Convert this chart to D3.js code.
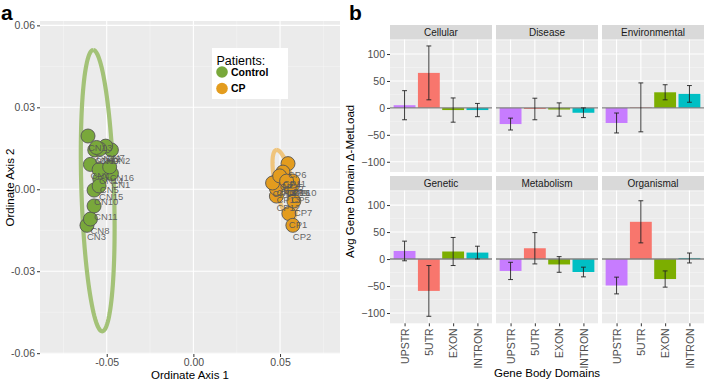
<!DOCTYPE html>
<html>
<head>
<meta charset="utf-8">
<script src="https://cdn.jsdelivr.net/npm/d3@7"></script>
<style>
  body { margin: 0; background: #fff; }
  text { font-family: "Liberation Sans", Arial, sans-serif; }
</style>
</head>
<body>
<svg id="chart"></svg>
<script>
// ---------- panel a : ordination ----------
const CN_LABELS = ['CN1', 'CN2', 'CN3', 'CN4', 'CN5', 'CN6', 'CN7', 'CN8',
    'CN9', 'CN10', 'CN11', 'CN12', 'CN13', 'CN14', 'CN15', 'CN16'];
const CN_X = [-0.0473, -0.0473, -0.0614, -0.0594, -0.0540, -0.0569, -0.0506, -0.0594,
    -0.0540, -0.0573, -0.0573, -0.0559, -0.0608, -0.0544, -0.0544, -0.0483];
const CN_Y = [0.0058, 0.0144, -0.0132, 0.0091, 0.0038, 0.0144, 0.0158, -0.0109,
    0.0147, -0.0003, -0.0061, 0.0153, 0.0195, 0.0072, 0.0012, 0.0082];

const CP_LABELS = ['CP1', 'CP2', 'CP3', 'CP4', 'CP5', 'CP6', 'CP7', 'CP8',
    'CP9', 'CP10', 'CP11', 'CP12', 'CP13', 'CP14', 'CP15', 'CP16'];
const CP_X = [0.0551, 0.0574, 0.0479, 0.0513, 0.0565, 0.0546, 0.0580, 0.0527,
    0.0555, 0.0573, 0.0517, 0.0479, 0.0479, 0.0457, 0.0498, 0.0538];
const CP_Y = [-0.0089, -0.0132, 0.0030, 0.0056, 0.0003, 0.0094, -0.0043, 0.0030,
    0.0030, 0.0030, 0.0063, -0.0025, 0.0003, 0.0023, 0.0049, 0.0030];

// ellipses: centre, major half-vector, minor half-vector (data units)
const ELLIPSE_CENTER = [[-0.0552, -0.0005], [0.0524, 0.0016]];
const ELLIPSE_MAJOR = [[-0.0026, 0.0515], [-0.0043, 0.0128]];
const ELLIPSE_MINOR = [[0.0094, 0], [0.0052, 0]];

const GROUPS = ['Control', 'CP'];
const A_X_TICKS = [-0.05, 0, 0.05];
const A_Y_TICKS = [-0.06, -0.03, 0, 0.03, 0.06];

// ---------- panel b : bars ----------
const DOMAINS = ['UPSTR', '5UTR', 'EXON', 'INTRON'];
const FACETS = ['Cellular', 'Disease', 'Environmental', 'Genetic', 'Metabolism', 'Organismal'];
const MEANS = [
    [5, 65, -4, -4],
    [-30, -2, -3, -9],
    [-28, 1, 29, 26],
    [15, -59, 14, 12],
    [-22, 20, -10, -24],
    [-49, 69, -37, 2]
];
const ERRS = [
    [27, 50, 22.5, 12.3],
    [11, 20, 12.3, 9],
    [18.5, 45.4, 14, 15.5],
    [18.2, 47, 26, 11.8],
    [16, 29, 14.5, 9],
    [15.5, 39, 15, 9.2]
];
const B_Y_TICKS = [-100, -50, 0, 50, 100];

const W = 709, H = 384;
const PANEL_BG = '#ebebeb';
const GROUP_COLORS = ['#79a83b', '#e39c1e'];
const ELLIPSE_COLORS = ['#a3c277', '#efc47c'];
const DOMAIN_COLORS = ['#c77cff', '#f8766d', '#7cae00', '#00bfc4'];
const TICK_COLOR = '#4d4d4d';
const FONT = '"Liberation Sans", Arial, sans-serif';

const svg = d3.select('#chart').attr('width', W).attr('height', H);
svg.append('rect').attr('width', W).attr('height', H).attr('fill', '#fff');

/* ************** PANEL A ************** */
const A = {left: 40, right: 340, top: 21, bottom: 354};
const ax = d3.scaleLinear().domain([-0.0885, 0.0846]).range([A.left, A.right]);
const ay = d3.scaleLinear().domain([-0.0603, 0.0616]).range([A.bottom, A.top]);

const pa = svg.append('g');
pa.append('rect').attr('x', A.left).attr('y', A.top)
    .attr('width', A.right - A.left).attr('height', A.bottom - A.top).attr('fill', PANEL_BG);

// minor grid
const aMinorX = [-0.075, -0.025, 0.025, 0.075];
const aMinorY = [-0.045, -0.015, 0.015, 0.045];
pa.selectAll('.vminor').data(aMinorX).enter().append('line')
    .attr('x1', d => ax(d)).attr('x2', d => ax(d)).attr('y1', A.top).attr('y2', A.bottom)
    .attr('stroke', '#f5f5f5').attr('stroke-width', 0.6);
pa.selectAll('.hminor').data(aMinorY).enter().append('line')
    .attr('y1', d => ay(d)).attr('y2', d => ay(d)).attr('x1', A.left).attr('x2', A.right)
    .attr('stroke', '#f5f5f5').attr('stroke-width', 0.6);
// major grid
pa.selectAll('.vmajor').data(A_X_TICKS).enter().append('line')
    .attr('x1', d => ax(d)).attr('x2', d => ax(d)).attr('y1', A.top).attr('y2', A.bottom)
    .attr('stroke', '#fff').attr('stroke-width', 1.1);
pa.selectAll('.hmajor').data(A_Y_TICKS).enter().append('line')
    .attr('y1', d => ay(d)).attr('y2', d => ay(d)).attr('x1', A.left).attr('x2', A.right)
    .attr('stroke', '#fff').attr('stroke-width', 1.1);

// ellipses
const ellipseLine = d3.line().x(d => ax(d[0])).y(d => ay(d[1]));
ELLIPSE_CENTER.forEach((c, i) => {
    const pts = d3.range(0, 361, 3).map(deg => {
        const t = deg * Math.PI / 180;
        return [c[0] + Math.cos(t) * ELLIPSE_MAJOR[i][0] + Math.sin(t) * ELLIPSE_MINOR[i][0],
            c[1] + Math.cos(t) * ELLIPSE_MAJOR[i][1] + Math.sin(t) * ELLIPSE_MINOR[i][1]];
    });
    pa.append('path').attr('d', ellipseLine(pts)).attr('fill', 'none')
        .attr('stroke', ELLIPSE_COLORS[i]).attr('stroke-width', 4.2);
});

// points
const cnPts = CN_LABELS.map((l, i) => ({label: l, x: CN_X[i], y: CN_Y[i], g: 0}));
const cpPts = CP_LABELS.map((l, i) => ({label: l, x: CP_X[i], y: CP_Y[i], g: 1}));
const allPts = cnPts.concat(cpPts);
pa.selectAll('.pt').data(allPts).enter().append('circle')
    .attr('cx', d => ax(d.x)).attr('cy', d => ay(d.y)).attr('r', 7)
    .attr('fill', d => GROUP_COLORS[d.g]).attr('stroke', '#555').attr('stroke-width', 0.9);
pa.selectAll('.ptlab').data(allPts).enter().append('text')
    .attr('x', d => ax(d.x)).attr('y', d => ay(d.y) + 14.5)
    .attr('font-size', 9.5).attr('fill', '#555').attr('fill-opacity', 0.9)
    .text(d => d.label);

// axes
const aXAxis = pa.append('g').attr('transform', `translate(0,${A.bottom})`)
    .call(d3.axisBottom(ax).tickValues(A_X_TICKS).tickSize(3).tickPadding(2)
        .tickFormat(d => d.toFixed(2)));
const aYAxis = pa.append('g').attr('transform', `translate(${A.left},0)`)
    .call(d3.axisLeft(ay).tickValues(A_Y_TICKS).tickSize(3).tickPadding(2)
        .tickFormat(d => d.toFixed(2)));
[aXAxis, aYAxis].forEach(g => {
    g.select('.domain').remove();
    g.selectAll('line').attr('stroke', '#333');
    g.selectAll('text').attr('fill', TICK_COLOR).attr('font-size', 10.5).style('font-family', FONT);
});

pa.append('text').attr('x', (A.left + A.right) / 2).attr('y', 379)
    .attr('text-anchor', 'middle').attr('font-size', 11.5).text('Ordinate Axis 1');
pa.append('text').attr('transform', `translate(14,${(A.top + A.bottom) / 2}) rotate(-90)`)
    .attr('text-anchor', 'middle').attr('font-size', 11.5).text('Ordinate Axis 2');

// legend
const lg = pa.append('g');
lg.append('rect').attr('x', 212).attr('y', 48).attr('width', 76).attr('height', 51).attr('fill', '#fff');
lg.append('text').attr('x', 216.5).attr('y', 65).attr('font-size', 12.5).text('Patients:');
GROUPS.forEach((g, i) => {
    const cy = 72 + i * 16.5;
    lg.append('circle').attr('cx', 222).attr('cy', cy).attr('r', 5.8).attr('fill', GROUP_COLORS[i]);
    lg.append('text').attr('x', 231).attr('y', cy).attr('dy', '0.36em')
        .attr('font-size', 10.5).attr('font-weight', 'bold').text(g);
});

svg.append('text').attr('x', 1).attr('y', 20).attr('font-size', 21)
    .attr('font-weight', 'bold').text('a');

/* ************** PANEL B ************** */
const B = {left: 390, right: 704, gap: 4};
const colW = (B.right - B.left - 2 * B.gap) / 3;
const ROWS = [{strip: 25, top: 39.5, bottom: 172}, {strip: 176, top: 190.5, bottom: 323.3}];

const bx = d3.scalePoint().domain(DOMAINS).range([0, colW]).padding(0.6);
const step = bx.step();

FACETS.forEach((facet, fi) => {
    const col = fi % 3, row = Math.floor(fi / 3);
    const r = ROWS[row];
    const left = B.left + col * (colW + B.gap);
    const by = d3.scaleLinear().domain([-119, 127]).range([r.bottom, r.top]);
    const g = svg.append('g').attr('transform', `translate(${left},0)`);

    // strip
    g.append('rect').attr('x', 0).attr('y', r.strip).attr('width', colW).attr('height', r.top - r.strip)
        .attr('fill', '#d9d9d9');
    g.append('text').attr('x', colW / 2).attr('y', (r.strip + r.top) / 2).attr('dy', '0.35em')
        .attr('text-anchor', 'middle').attr('font-size', 10).attr('fill', '#1a1a1a').text(facet);

    // panel
    g.append('rect').attr('x', 0).attr('y', r.top).attr('width', colW).attr('height', r.bottom - r.top)
        .attr('fill', PANEL_BG);
    const minorY = [-75, -25, 25, 75, 125].filter(v => by(v) > r.top);
    g.selectAll('.mg').data(minorY).enter().append('line')
        .attr('x1', 0).attr('x2', colW).attr('y1', d => by(d)).attr('y2', d => by(d))
        .attr('stroke', '#f5f5f5').attr('stroke-width', 0.6);
    g.selectAll('.hg').data(B_Y_TICKS).enter().append('line')
        .attr('x1', 0).attr('x2', colW).attr('y1', d => by(d)).attr('y2', d => by(d))
        .attr('stroke', '#fff').attr('stroke-width', 1.1);
    g.selectAll('.vg').data(DOMAINS).enter().append('line')
        .attr('x1', d => bx(d)).attr('x2', d => bx(d)).attr('y1', r.top).attr('y2', r.bottom)
        .attr('stroke', '#fff').attr('stroke-width', 1.1);

    const rows = DOMAINS.map((d, i) => ({domain: d, mean: MEANS[fi][i], err: ERRS[fi][i], i}));

    // bars
    g.selectAll('.bar').data(rows).enter().append('rect')
        .attr('x', d => bx(d.domain) - step * 0.45).attr('width', step * 0.9)
        .attr('y', d => by(Math.max(0, d.mean)))
        .attr('height', d => Math.abs(by(d.mean) - by(0)))
        .attr('fill', d => DOMAIN_COLORS[d.i]);

    // zero line
    g.append('line').attr('x1', 0).attr('x2', colW).attr('y1', by(0)).attr('y2', by(0))
        .attr('stroke', '#7f7f7f').attr('stroke-width', 1.4);

    // error bars
    const eb = g.selectAll('.eb').data(rows).enter().append('g');
    eb.append('line').attr('x1', d => bx(d.domain)).attr('x2', d => bx(d.domain))
        .attr('y1', d => by(d.mean - d.err)).attr('y2', d => by(d.mean + d.err))
        .attr('stroke', '#222').attr('stroke-width', 0.9);
    [-1, 1].forEach(s => {
        eb.append('line').attr('x1', d => bx(d.domain) - step * 0.1).attr('x2', d => bx(d.domain) + step * 0.1)
            .attr('y1', d => by(d.mean + s * d.err)).attr('y2', d => by(d.mean + s * d.err))
            .attr('stroke', '#222').attr('stroke-width', 0.9);
    });

    if (col === 0) {
        const yAxis = g.append('g').call(d3.axisLeft(by).tickValues(B_Y_TICKS).tickSize(3).tickPadding(2));
        yAxis.select('.domain').remove();
        yAxis.selectAll('line').attr('stroke', '#333');
        yAxis.selectAll('text').attr('fill', TICK_COLOR).attr('font-size', 10.5).style('font-family', FONT);
    }
    if (row === 1) {
        const xAxis = g.append('g').attr('transform', `translate(0,${r.bottom})`)
            .call(d3.axisBottom(bx).tickSize(3).tickPadding(2));
        xAxis.select('.domain').remove();
        xAxis.selectAll('line').attr('stroke', '#333');
        xAxis.selectAll('text').attr('fill', TICK_COLOR).attr('font-size', 10.5).style('font-family', FONT)
            .attr('transform', 'rotate(-90)').attr('x', -5).attr('y', 0).attr('dy', '0.35em')
            .style('text-anchor', 'end');
    }
});

svg.append('text').attr('x', (B.left + B.right) / 2).attr('y', 377)
    .attr('text-anchor', 'middle').attr('font-size', 11.5).text('Gene Body Domains');
svg.append('text').attr('transform', `translate(354,${(ROWS[0].top + ROWS[1].bottom) / 2}) rotate(-90)`)
    .attr('text-anchor', 'middle').attr('font-size', 11.5).text('Avg Gene Domain Δ-MetLoad');

svg.append('text').attr('x', 349).attr('y', 20).attr('font-size', 21)
    .attr('font-weight', 'bold').text('b');
</script>
</body>
</html>
